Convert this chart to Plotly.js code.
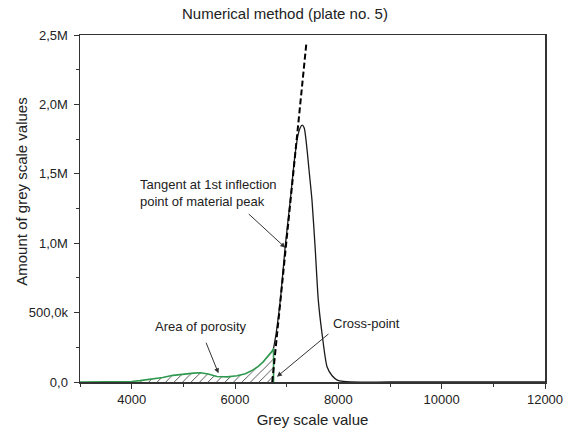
<!DOCTYPE html>
<html>
<head>
<meta charset="utf-8">
<script src="https://cdn.plot.ly/plotly-3.0.1.min.js"></script>
<style>html,body{margin:0;padding:0;background:#fff;}#chart{width:570px;height:436px;}</style>
</head>
<body>
<div id="chart"></div>
<script>
// Porosity part of the histogram (green, hatched)
const porosityX = [3000, 3400, 3800, 4000, 4160, 4400, 4600, 4800, 5000, 5200, 5330, 5480, 5650, 5850, 6040, 6200, 6350, 6450, 6550, 6640, 6715, 6746, 6746];
const porosityY = [0, 0, 1000, 4000, 10000, 20000, 32000, 48000, 58000, 64000, 67000, 58000, 40000, 37000, 45000, 60000, 87000, 112000, 147000, 185000, 222000, 240000, 0];

// Material peak (black)
const materialX = [6746, 6800, 6880, 6970, 7070, 7150, 7220, 7260, 7300, 7340, 7393, 7440, 7490, 7554, 7612, 7684, 7781, 7880, 7980, 8100, 8230, 9000, 12000];
const materialY = [240000, 360000, 600000, 970000, 1310000, 1600000, 1780000, 1830000, 1850000, 1830000, 1680000, 1500000, 1310000, 950000, 590000, 350000, 110000, 45000, 14000, 4000, 0, 0, 0];

// Tangent at 1st inflection point
const tangentX = [6721, 7380];
const tangentY = [0, 2435000];

// Ticks
const xTickVals = [4000, 6000, 8000, 10000, 12000];
const xTickText = ['4000', '6000', '8000', '10000', '12000'];
const yTickVals = [0, 500000, 1000000, 1500000, 2000000, 2500000];
const yTickText = ['0,0', '500,0k', '1,0M', '1,5M', '2,0M', '2,5M'];

const FONT = 'Liberation Sans, Arial, sans-serif';
const TXT = '#222';

const traces = [
  {
    x: materialX, y: materialY, type: 'scatter', mode: 'lines',
    line: {color: '#1a1a1a', width: 1.3, shape: 'spline', smoothing: 0.6},
    hoverinfo: 'skip', showlegend: false
  },
  {
    x: porosityX, y: porosityY, type: 'scatter', mode: 'lines',
    line: {color: '#2f9a4f', width: 1.6},
    fill: 'tozeroy', fillcolor: 'white',
    fillpattern: {shape: '/', fgcolor: '#444', bgcolor: 'white', size: 6, solidity: 0.15},
    hoverinfo: 'skip', showlegend: false
  },
  {
    x: tangentX, y: tangentY, type: 'scatter', mode: 'lines',
    line: {color: '#000', width: 2, dash: '6px,3px'},
    hoverinfo: 'skip', showlegend: false
  }
];

const arrowStyle = {showarrow: true, arrowhead: 2, arrowsize: 1, arrowwidth: 1, arrowcolor: '#333', text: '', axref: 'pixel', ayref: 'pixel', xref: 'x', yref: 'y'};

const layout = {
  width: 570, height: 436,
  margin: {l: 80, r: 25, t: 35, b: 54},
  paper_bgcolor: '#fff', plot_bgcolor: '#fff',
  font: {family: FONT, color: TXT, size: 13},
  title: {text: 'Numerical method (plate no. 5)', x: 0.5, xref: 'container', xanchor: 'center', y: 0.968, yref: 'container', yanchor: 'middle', font: {size: 15, color: TXT, family: FONT}},
  xaxis: {
    range: [3000, 12000], tickmode: 'array', tickvals: xTickVals, ticktext: xTickText,
    showgrid: false, zeroline: false, showline: true, mirror: true, linecolor: '#333', linewidth: 1.5,
    ticks: 'outside', ticklen: 5, tickwidth: 1, tickcolor: '#333',
    minor: {tickmode: 'linear', tick0: 3000, dtick: 1000, ticks: 'outside', ticklen: 3, tickwidth: 1, tickcolor: '#333', showgrid: false},
    tickfont: {size: 13, color: TXT},
    title: {text: 'Grey scale value', font: {size: 15, color: TXT}, standoff: 8}
  },
  yaxis: {
    range: [0, 2500000], tickmode: 'array', tickvals: yTickVals, ticktext: yTickText,
    showgrid: false, zeroline: false, showline: true, mirror: true, linecolor: '#333', linewidth: 1.5,
    ticks: 'outside', ticklen: 5, tickwidth: 1, tickcolor: '#333', ticklabelstandoff: 3,
    minor: {tickmode: 'linear', tick0: 0, dtick: 250000, ticks: 'outside', ticklen: 3, tickwidth: 1, tickcolor: '#333', showgrid: false},
    tickfont: {size: 13, color: TXT}
  },
  annotations: [
    {text: 'Amount of grey scale values', xref: 'paper', yref: 'paper', x: -0.125, y: 0.548, textangle: -90, showarrow: false, xanchor: 'center', yanchor: 'middle', font: {size: 15, color: TXT}},
    {text: 'Tangent at 1st inflection<br>point of material peak', xref: 'x', yref: 'y', x: 4124, y: 1362000, xanchor: 'left', yanchor: 'middle', align: 'left', showarrow: false, font: {size: 13, color: TXT}},
    {text: 'Area of porosity', xref: 'x', yref: 'y', x: 5345, y: 397000, xanchor: 'center', yanchor: 'middle', showarrow: false, font: {size: 13, color: TXT}},
    {text: 'Cross-point', xref: 'x', yref: 'y', x: 8543, y: 419000, xanchor: 'center', yanchor: 'middle', showarrow: false, font: {size: 13, color: TXT}},
    Object.assign({}, arrowStyle, {x: 6973, y: 968000, ax: -38, ay: -35}),
    Object.assign({}, arrowStyle, {x: 5680, y: 63000, ax: -13, ay: -32}),
    Object.assign({}, arrowStyle, {x: 6812, y: 38000, ax: 53, ay: -44})
  ]
};

Plotly.newPlot('chart', traces, layout, {displayModeBar: false, staticPlot: true});
</script>
</body>
</html>
